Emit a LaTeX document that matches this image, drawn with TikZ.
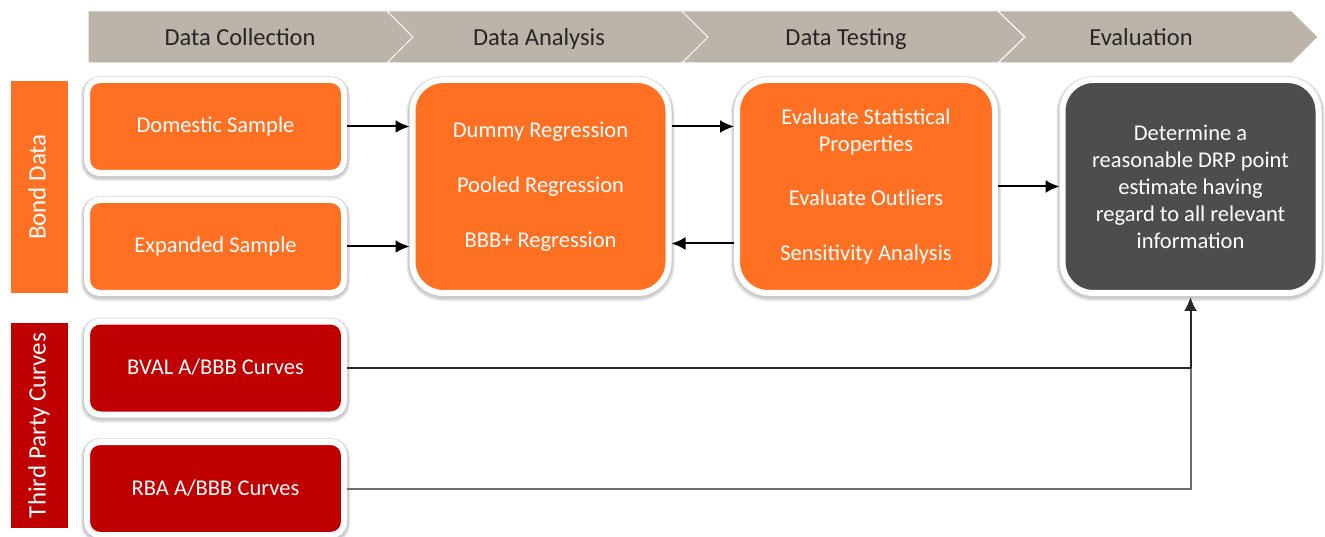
\documentclass[tikz,border=0pt]{standalone}
\usepackage{fontspec}
\setmainfont{Carlito}
\usetikzlibrary{arrows.meta}
\definecolor{hdr}{RGB}{188,179,169}
\definecolor{org}{RGB}{255,112,34}
\definecolor{dred}{RGB}{192,0,0}
\definecolor{dgray}{RGB}{77,77,77}
\definecolor{htext}{RGB}{38,38,38}
\definecolor{lineA}{RGB}{40,40,40}
\definecolor{lineB}{RGB}{110,110,110}
\begin{document}
\begin{tikzpicture}[x=1pt,y=-1pt,
  box/.style={draw=white, line width=6pt, text=white,
    font=\fontsize{22.5}{27}\selectfont, align=center, inner sep=0pt,
    preaction={draw=black!10, line width=12pt, transform canvas={yshift=-2pt}},
    preaction={draw=black!20, line width=9pt, transform canvas={yshift=-1.5pt}}},
  smallbox/.style={box, rounded corners=13pt, minimum width=257pt, minimum height=93pt,
    text height=15pt, text depth=2pt},
  bigbox/.style={box, rounded corners=31pt, minimum width=256pt, minimum height=213pt},
  sidebar/.style={rotate=90, text=white, font=\fontsize{25}{30}\selectfont,
    inner sep=0pt, minimum height=57pt, text height=17pt, text depth=5pt},
  hlabel/.style={text=htext, font=\fontsize{24.5}{30}\selectfont, inner sep=0pt,
    text height=16pt, text depth=2pt},
  arr/.style={-{Latex[length=14pt,width=13pt]}, line width=2pt, black},
  feedA/.style={line width=2pt, lineA},
  feedB/.style={line width=2pt, lineB}
]
\useasboundingbox (0,0) rectangle (1325,537);
\fill[white] (0,0) rectangle (1325,537);

% header chevrons
\begin{scope}[fill=hdr, draw=white, line width=1pt]
\filldraw (88,11) -- (387,11) -- (413,37) -- (387,63) -- (88,63) -- cycle;
\filldraw (387,11) -- (682,11) -- (708,37) -- (682,63) -- (387,63) -- (413,37) -- cycle;
\filldraw (682,11) -- (998,11) -- (1025,37) -- (998,63) -- (682,63) -- (708,37) -- cycle;
\filldraw (998,11) -- (1292,11) -- (1318,37) -- (1292,63) -- (998,63) -- (1025,37) -- cycle;
\end{scope}
\node[hlabel] (h1) at (240,38.5) {Data Collection};
\node[hlabel] (h2) at (539,38.5) {Data Analysis};
\node[hlabel] (h3) at (846,38.5) {Data Testing};
\node[hlabel] (h4) at (1141,38.5) {Evaluation};

% side bars
\node[sidebar, fill=org, minimum width=212pt] (bond) at (39.5,187) {Bond Data};
\node[sidebar, fill=dred, minimum width=205pt] (third) at (39.5,425.5) {Third Party Curves};

% boxes
\node[smallbox, fill=org] (dom) at (215.5,126.5) {Domestic Sample};
\node[smallbox, fill=org] (exp) at (215.5,246.5) {Expanded Sample};
\node[smallbox, fill=dred] (bval) at (215.5,368) {BVAL A/BBB Curves};
\node[smallbox, fill=dred] (rba) at (215.5,488.5) {RBA A/BBB Curves};

\node[bigbox, fill=org] (ana) at (540.5,186.5)
  {Dummy Regression\\[28pt]Pooled Regression\\[28pt]BBB+ Regression};
\node[bigbox, fill=org, minimum width=258pt] (test) at (866,186.5)
  {Evaluate Statistical\\Properties\\[27pt]Evaluate Outliers\\[28pt]Sensitivity Analysis};
\node[bigbox, fill=dgray] (eval) at (1190.5,186.5)
  {Determine a\\reasonable DRP point\\estimate having\\regard to all relevant\\information};

% connectors
\draw[arr] (dom.east) -- (ana.west |- dom.east);
\draw[arr] (exp.east) -- (ana.west |- exp.east);
\draw[arr] (ana.east |- dom.east) -- (test.west |- dom.east);
\draw[arr] ([yshift=3pt]test.west |- exp.east) -- ([yshift=3pt]ana.east |- exp.east);
\draw[arr] (test.east) -- (eval.west);
\coordinate (join) at (eval.south |- bval.east);
\draw[feedB] (rba.east) -| (join);
\draw[feedA] (bval.east) -- (join);
\draw[arr, lineA] (join) -- ([yshift=-1pt]eval.south);
\end{tikzpicture}
\end{document}
